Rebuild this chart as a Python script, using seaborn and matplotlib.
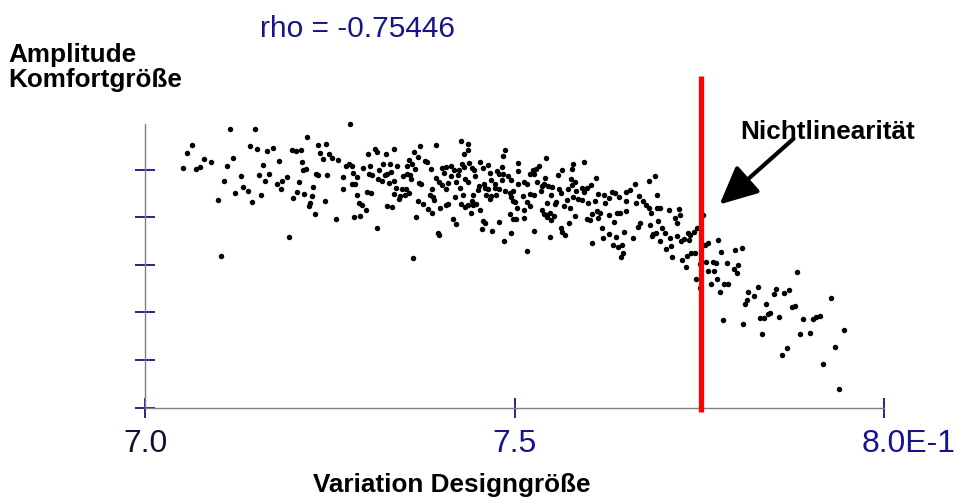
import matplotlib
matplotlib.use("Agg")
import matplotlib.pyplot as plt
import matplotlib.transforms as mtransforms
import seaborn as sns
import pandas as pd

# ---------------- data ----------------
# (design variable, comfort amplitude) pairs, grouped by x-region
pts_a = [(7.114, 5.86), (7.148, 5.86), (7.063, 5.52), (7.057, 5.36), (7.142, 5.50), (7.151, 5.44),
         (7.165, 5.40), (7.173, 5.46), (7.079, 5.23), (7.089, 5.16), (7.118, 5.25), (7.110, 5.08),
         (7.181, 5.19), (7.159, 5.09), (7.051, 5.04), (7.068, 5.01), (7.074, 5.05), (7.129, 4.86),
         (7.154, 4.89), (7.168, 4.91), (7.192, 4.85), (7.106, 4.76), (7.162, 4.76), (7.178, 4.71),
         (7.185, 4.76), (7.132, 4.63), (7.139, 4.55), (7.183, 4.59), (7.122, 4.50), (7.157, 4.47),
         (7.098, 4.36), (7.145, 4.32), (7.194, 3.59), (7.102, 3.19)]
pts_b = [(7.277, 5.95), (7.219, 5.68), (7.234, 5.51), (7.245, 5.54), (7.199, 5.42), (7.204, 5.39),
         (7.210, 5.41), (7.237, 5.36), (7.248, 5.34), (7.240, 5.23), (7.253, 5.25), (7.261, 5.20),
         (7.301, 5.32), (7.311, 5.43), (7.314, 5.37), (7.325, 5.32), (7.336, 5.44), (7.212, 5.16),
         (7.271, 5.08), (7.276, 5.12), (7.280, 5.08), (7.294, 5.04), (7.304, 5.08), (7.322, 5.13),
         (7.331, 5.13), (7.341, 5.08), (7.213, 4.99), (7.217, 5.01), (7.316, 5.00), (7.332, 4.96),
         (7.281, 4.94), (7.231, 4.92), (7.233, 4.88), (7.246, 4.89), (7.268, 4.85), (7.286, 4.85),
         (7.302, 4.92), (7.307, 4.89), (7.324, 4.89), (7.327, 4.92), (7.349, 4.87), (7.315, 4.80),
         (7.320, 4.77), (7.337, 4.76), (7.208, 4.74), (7.330, 4.72), (7.284, 4.71), (7.280, 4.69),
         (7.227, 4.64), (7.267, 4.59), (7.339, 4.61), (7.347, 4.59), (7.205, 4.53), (7.215, 4.48),
         (7.225, 4.45), (7.287, 4.46), (7.300, 4.53), (7.306, 4.50), (7.337, 4.48), (7.344, 4.45),
         (7.200, 4.41), (7.343, 4.38), (7.243, 4.35), (7.223, 4.31), (7.221, 4.24), (7.289, 4.30),
         (7.293, 4.26), (7.298, 4.16), (7.327, 4.24), (7.334, 4.22), (7.229, 4.06), (7.258, 3.96),
         (7.283, 4.01), (7.291, 4.03), (7.313, 3.78)]
pts_c = [(7.427, 5.60), (7.436, 5.54), (7.437, 5.41), (7.431, 5.32), (7.372, 5.49), (7.393, 5.51),
         (7.363, 5.37), (7.369, 5.27), (7.486, 5.41), (7.484, 5.29), (7.357, 5.20), (7.361, 5.13),
         (7.354, 5.08), (7.379, 5.18), (7.381, 5.16), (7.365, 5.01), (7.386, 5.01), (7.354, 4.92),
         (7.504, 5.14), (7.429, 5.13), (7.438, 5.15), (7.453, 5.16), (7.401, 5.04), (7.407, 5.05),
         (7.413, 5.08), (7.418, 4.99), (7.424, 4.99), (7.431, 5.06), (7.442, 5.04), (7.457, 5.04),
         (7.463, 5.09), (7.482, 5.06), (7.504, 4.98), (7.358, 4.89), (7.359, 4.80), (7.404, 4.94),
         (7.413, 4.86), (7.423, 4.88), (7.445, 4.99), (7.446, 4.87), (7.466, 4.93), (7.476, 4.97),
         (7.479, 4.92), (7.484, 4.90), (7.491, 4.87), (7.495, 4.78), (7.393, 4.83), (7.397, 4.74),
         (7.401, 4.68), (7.409, 4.72), (7.421, 4.75), (7.432, 4.81), (7.437, 4.74), (7.468, 4.78),
         (7.482, 4.78), (7.370, 4.72), (7.373, 4.71), (7.451, 4.66), (7.458, 4.71), (7.473, 4.71),
         (7.504, 4.71), (7.426, 4.62), (7.407, 4.59), (7.388, 4.59), (7.353, 4.60), (7.357, 4.52),
         (7.351, 4.47), (7.450, 4.57), (7.459, 4.62), (7.463, 4.59), (7.473, 4.62), (7.478, 4.60),
         (7.487, 4.56), (7.498, 4.56), (7.493, 4.50), (7.385, 4.47), (7.389, 4.43), (7.390, 4.37),
         (7.419, 4.43), (7.430, 4.47), (7.444, 4.46), (7.461, 4.46), (7.468, 4.45), (7.474, 4.47),
         (7.466, 4.38), (7.495, 4.43), (7.497, 4.35), (7.500, 4.33), (7.369, 4.34), (7.376, 4.27),
         (7.427, 4.28), (7.432, 4.22), (7.437, 4.26), (7.442, 4.34), (7.444, 4.26), (7.448, 4.28),
         (7.410, 4.27), (7.407, 4.25), (7.399, 4.20), (7.383, 4.18), (7.388, 4.10), (7.453, 4.16),
         (7.503, 4.20), (7.440, 4.08), (7.366, 4.01), (7.416, 3.97), (7.420, 3.86), (7.457, 3.93),
         (7.459, 3.89), (7.479, 3.91), (7.494, 4.07), (7.497, 3.96), (7.502, 3.97), (7.455, 3.76),
         (7.469, 3.71), (7.495, 3.68), (7.396, 3.68), (7.397, 3.63), (7.485, 3.51), (7.362, 3.14)]
pts_d = [(7.542, 5.25), (7.579, 5.12), (7.593, 5.16), (7.532, 5.07), (7.525, 4.99), (7.529, 5.01),
         (7.521, 4.91), (7.526, 4.92), (7.564, 4.99), (7.559, 4.89), (7.578, 5.01), (7.541, 4.83),
         (7.512, 4.75), (7.517, 4.71), (7.530, 4.75), (7.576, 4.80), (7.582, 4.75), (7.610, 4.83),
         (7.662, 4.69), (7.537, 4.66), (7.540, 4.71), (7.545, 4.65), (7.550, 4.64), (7.560, 4.60),
         (7.572, 4.60), (7.577, 4.67), (7.591, 4.62), (7.597, 4.62), (7.603, 4.68), (7.535, 4.55),
         (7.562, 4.52), (7.583, 4.55), (7.593, 4.53), (7.613, 4.49), (7.621, 4.47), (7.631, 4.53),
         (7.636, 4.50), (7.641, 4.43), (7.650, 4.53), (7.656, 4.57), (7.520, 4.49), (7.526, 4.46),
         (7.511, 4.45), (7.549, 4.47), (7.570, 4.37), (7.579, 4.43), (7.586, 4.38), (7.591, 4.36),
         (7.599, 4.31), (7.609, 4.34), (7.622, 4.31), (7.627, 4.40), (7.651, 4.34), (7.516, 4.32),
         (7.520, 4.24), (7.543, 4.29), (7.554, 4.27), (7.556, 4.33), (7.566, 4.24), (7.575, 4.20),
         (7.513, 4.15), (7.537, 4.15), (7.547, 4.10), (7.540, 4.06), (7.544, 4.04), (7.553, 4.03),
         (7.549, 3.94), (7.543, 4.00), (7.512, 3.98), (7.581, 4.03), (7.611, 4.13), (7.615, 4.10),
         (7.604, 4.06), (7.598, 3.96), (7.602, 3.94), (7.612, 3.98), (7.628, 4.04), (7.638, 4.08),
         (7.642, 4.10), (7.651, 4.13), (7.573, 3.89), (7.634, 3.90), (7.526, 3.72), (7.563, 3.77),
         (7.564, 3.69), (7.568, 3.63), (7.548, 3.59), (7.618, 3.77), (7.619, 3.56), (7.628, 3.65),
         (7.637, 3.59), (7.648, 3.70), (7.660, 3.57), (7.605, 3.46), (7.633, 3.41), (7.639, 3.38),
         (7.645, 3.42), (7.647, 3.26), (7.644, 3.17), (7.517, 3.29)]
pts_e = [(7.689, 4.87), (7.681, 4.76), (7.692, 4.47), (7.668, 4.45), (7.673, 4.34), (7.664, 4.29),
         (7.677, 4.25), (7.681, 4.20), (7.684, 4.08), (7.692, 4.19), (7.696, 4.19), (7.708, 4.15),
         (7.722, 4.17), (7.724, 4.05), (7.717, 3.99), (7.719, 3.89), (7.754, 4.05), (7.694, 3.92),
         (7.669, 3.89), (7.667, 3.80), (7.683, 3.83), (7.699, 3.78), (7.703, 3.66), (7.691, 3.67),
         (7.687, 3.65), (7.685, 3.60), (7.710, 3.56), (7.697, 3.51), (7.720, 3.61), (7.725, 3.50),
         (7.729, 3.55), (7.734, 3.68), (7.737, 3.62), (7.742, 3.70), (7.747, 3.78), (7.736, 3.52),
         (7.711, 3.40), (7.705, 3.34), (7.762, 3.47), (7.757, 3.42), (7.775, 3.52), (7.712, 3.17),
         (7.726, 3.10), (7.733, 3.18), (7.739, 3.26), (7.744, 3.24), (7.731, 2.95), (7.751, 3.01),
         (7.759, 3.06), (7.768, 3.06), (7.772, 3.03), (7.779, 3.27), (7.798, 3.31), (7.807, 3.36),
         (7.761, 2.88), (7.770, 2.87), (7.787, 3.03), (7.796, 2.91), (7.800, 2.84), (7.802, 2.99),
         (7.745, 2.70), (7.773, 2.70), (7.766, 2.60), (7.783, 2.59), (7.789, 2.60), (7.751, 2.51),
         (7.777, 2.44), (7.815, 2.44), (7.814, 2.26), (7.812, 2.18)]
pts_f = [(7.882, 2.85), (7.829, 2.54), (7.824, 2.35), (7.854, 2.49), (7.851, 2.38), (7.864, 2.41),
         (7.871, 2.47), (7.840, 2.18), (7.875, 2.12), (7.879, 2.14), (7.928, 2.30), (7.781, 1.84),
         (7.809, 1.75), (7.832, 1.88), (7.837, 1.89), (7.843, 1.97), (7.845, 1.98), (7.858, 1.90),
         (7.890, 1.86), (7.903, 1.87), (7.907, 1.91), (7.913, 1.93), (7.945, 1.63), (7.834, 1.55),
         (7.886, 1.54), (7.899, 1.57), (7.868, 1.25), (7.861, 1.10), (7.933, 1.28), (7.917, 0.92),
         (7.939, 0.39)]

threshold = 7.752                      # "Nichtlinearität" boundary
arrow_tip = (7.777, 4.27)
arrow_tail = (7.877, 5.65)
x_ticks = [7.0, 7.5, 8.0]
x_ticklabels = ["7.0", "7.5", "8.0E-1"]
y_ticks = [0, 1, 2, 3, 4, 5]
title_text = "rho = -0.75446"
ylabel_lines = ["Amplitude", "Komfortgröße"]
xlabel_text = "Variation Designgröße"
note_text = "Nichtlinearität"

# ---------------- plotting ----------------
sns.set_theme(style="white")
plt.rcParams["font.family"] = ["Liberation Sans", "DejaVu Sans"]

W, H = 956, 499
NAVY = "#14148c"
fig = plt.figure(figsize=(W / 100, H / 100), dpi=100)
ax = fig.add_axes([145.3 / W, (H - 407.7) / H, (884.4 - 145.3) / W, (407.7 - 124) / H])

df = pd.DataFrame(pts_a + pts_b + pts_c + pts_d + pts_e + pts_f, columns=["x", "y"])
sns.scatterplot(data=df, x="x", y="y", ax=ax, marker="o", s=4.5, color="white",
                edgecolor="black", linewidth=1.8, clip_on=False, zorder=3)

ax.set_xlim(7.0, 8.0)
ax.set_ylim(0, 5.96)
ax.set_xticks(x_ticks)
ax.set_xticklabels(x_ticklabels)
ax.set_yticks(y_ticks)
ax.set_yticklabels([])
ax.set_xlabel("")
ax.set_ylabel("")
ax.tick_params(axis="both", direction="inout", length=14, width=1.3, color=NAVY,
               labelcolor=NAVY, labelsize=23, pad=8)
ax.tick_params(axis="y", left=True)
ax.tick_params(axis="x", bottom=True)
xt_labels = ax.get_xticklabels()
xt_labels[0].set_color("#101030")
# the "8.0" part of the last label sits centred on its tick, "E-1" hangs right
xt_labels[-1].set_transform(xt_labels[-1].get_transform() +
                            mtransforms.ScaledTranslation(0.24, 0, fig.dpi_scale_trans))
for side in ["top", "right"]:
    ax.spines[side].set_visible(False)
for side in ["left", "bottom"]:
    ax.spines[side].set_color("#808080")
    ax.spines[side].set_linewidth(1.0)
    ax.spines[side].set_zorder(1)
ax.set_facecolor("white")

# red threshold line (extends beyond the axes)
ax.plot([threshold, threshold], [-0.09, 6.97], color="#ff0000", lw=3.8,
        solid_capstyle="butt", clip_on=False, zorder=5)

# arrow
ax.annotate("", xy=arrow_tip, xytext=arrow_tail, annotation_clip=False,
            arrowprops=dict(arrowstyle="-|>,head_length=0.8,head_width=0.38",
                            mutation_scale=29, lw=3, color="black",
                            shrinkA=0, shrinkB=0), zorder=6)

# texts
fig.text(358 / W, 1 - 36.7 / H, title_text, ha="center", va="baseline",
         fontsize=21.5, color=NAVY)
fig.text(8 / W, 1 - 61.7 / H, ylabel_lines[0], ha="left", va="baseline",
         fontsize=18.8, fontweight="bold", color="black")
fig.text(8 / W, 1 - 87.3 / H, ylabel_lines[1], ha="left", va="baseline",
         fontsize=18.8, fontweight="bold", color="black")
fig.text(452 / W, 1 - 491.7 / H, xlabel_text, ha="center", va="baseline",
         fontsize=18.8, fontweight="bold", color="black")
fig.text(828 / W, 1 - 139 / H, note_text, ha="center", va="baseline",
         fontsize=18.8, fontweight="bold", color="black")

fig.savefig("out.png", dpi=100, facecolor="white")
